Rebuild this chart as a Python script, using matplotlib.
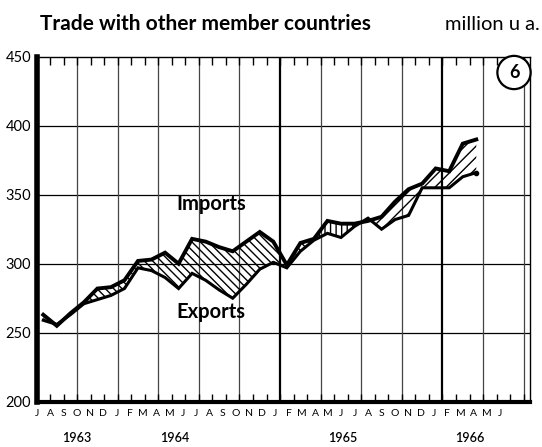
import numpy as np
import matplotlib
matplotlib.use("Agg")
import matplotlib.pyplot as plt

plt.rcParams['font.family'] = ['Lato', 'DejaVu Sans']
plt.rcParams['hatch.linewidth'] = 1.0

# monthly values, million u.a., Jul 1963 .. Mar 1966
imports = [263, 255, 264, 272, 282, 283, 288, 302, 303, 308, 300, 318,
           316, 312, 309, 316, 323, 316, 299, 315, 318, 331, 329, 329,
           331, 334, 345, 354, 358, 369, 367, 387, 390]
exports = [259, 256, 263, 271, 274, 277, 282, 297, 295, 290, 282, 293,
           288, 281, 275, 285, 296, 301, 297, 309, 317, 322, 319, 327,
           333, 325, 332, 335, 355, 355, 355, 363, 366]

month_letters = list("JASONDJFMAMJ" + "JASONDJFMAMJ" + "JASONDJFMAMJ")
years = ["1963", "1964", "1965", "1966"]
year_pos = [2.97, 10.2, 22.6, 32.0]
yticks = [200, 250, 300, 350, 400, 450]

W, H = 542, 447
fig = plt.figure(figsize=(W / 100, H / 100), dpi=100)
ax = fig.add_axes([36.5 / W, 1 - 401.7 / H, (530 - 36.5) / W, (401.7 - 56.7) / H])

x = np.arange(len(imports)) + 0.5
imp = np.array(imports)
exp_ = np.array(exports)
idx = np.arange(len(imports))

# hatched gap between the two series
ax.fill_between(x, exp_, imp, where=idx <= 20, interpolate=True,
                facecolor='none', edgecolor='black', hatch='\\\\\\\\', linewidth=0)
ax.fill_between(x, exp_, imp, where=(idx >= 20) & (idx <= 24), interpolate=True,
                facecolor='none', edgecolor='black', hatch='|||', linewidth=0)
ax.fill_between(x, exp_, imp, where=idx >= 24, interpolate=True,
                facecolor='none', edgecolor='black', hatch='///', linewidth=0)

ax.plot(x, imp, color='black', lw=2.8, solid_joinstyle='miter')
ax.plot(x, exp_, color='black', lw=2.2, solid_joinstyle='miter')
ax.plot(x[-1], exp_[-1], 'o', color='black', ms=3)

ax.set_xlim(0, 36.47)
ax.set_ylim(200, 450)

# grid
for v in [250, 300, 350, 400]:
    ax.axhline(v, color='black', lw=0.9, zorder=0)
for m in range(3, 37, 3):
    if m in (18, 30):
        ax.axvline(m, color='black', lw=1.6, zorder=0)
    else:
        ax.axvline(m, color='#444444', lw=0.9, zorder=0)

# small month ticks on top and bottom edges
ax.set_xticks(range(0, 37))
ax.set_xticklabels([])
ax.tick_params(axis='x', which='both', direction='in', length=6, width=1.0,
               top=True, bottom=True, color='black')
ax.set_yticks(yticks)
ax.set_yticklabels([str(v) for v in yticks], fontsize=10.5)
ax.tick_params(axis='y', length=0, pad=4)

for side in ['top', 'right']:
    ax.spines[side].set_linewidth(1.0)
ax.spines['left'].set_linewidth(4)
ax.spines['bottom'].set_linewidth(3)

# month letters and years
for m, lab in enumerate(month_letters):
    ax.text(m * 0.978 + 0.05, -0.033, lab, transform=ax.get_xaxis_transform(),
            ha='center', va='center', fontsize=7.5)
for yr, p in zip(years, year_pos):
    ax.text(p, -0.105, yr, transform=ax.get_xaxis_transform(),
            ha='center', va='center', fontsize=9, fontweight='semibold')

ax.text(10.3, 343, "Imports", fontsize=14.5, fontweight='bold', ha='left', va='center')
ax.text(10.3, 265, "Exports", fontsize=14.5, fontweight='bold', ha='left', va='center')

# circled panel number
fig.text(514 / W, 1 - 72.5 / H, "6", ha='center', va='center', fontsize=13,
         fontweight='bold',
         bbox=dict(boxstyle='circle,pad=0.45', facecolor='white',
                   edgecolor='black', lw=1.6))

fig.text(40 / W, 1 - 24 / H, "Trade with other member countries", fontsize=15,
         fontweight='bold', ha='left', va='center')
fig.text(540 / W, 1 - 24 / H, "million u a.", fontsize=14.5, ha='right', va='center')

fig.savefig("out.png", dpi=100)
